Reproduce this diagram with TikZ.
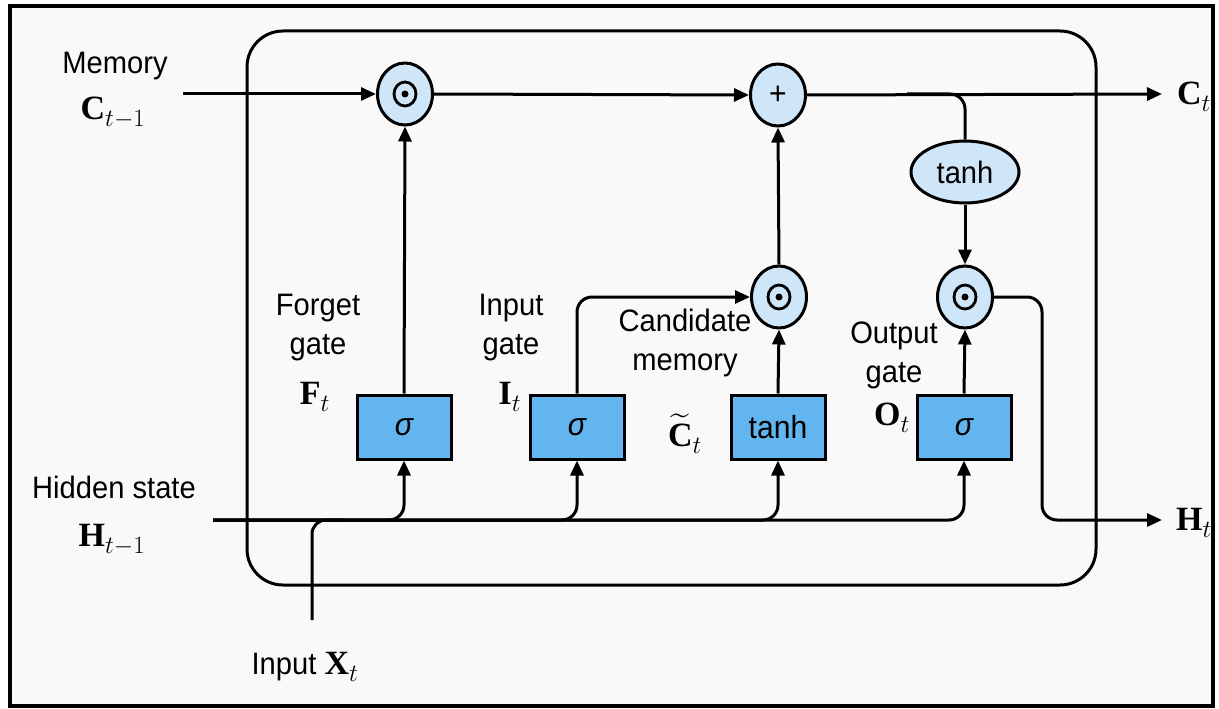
\documentclass[tikz,border=0pt]{standalone}
\usepackage{amsmath,amssymb}
\usepackage{fontspec}
\setmainfont[FakeStretch=0.94]{Liberation Sans}
\setmathrm{Liberation Serif}
\usepackage{tikz}
\usetikzlibrary{positioning,calc,shapes.geometric,arrows.meta}
\usepackage{xcolor}
\definecolor{boxblue}{HTML}{62B5EE}
\definecolor{opblue}{HTML}{CFE6F8}
\definecolor{bggray}{HTML}{F9F9F9}

\begin{document}
\begin{tikzpicture}[x=1pt,y=-1pt]
  % Styles local to this figure.
  \tikzset{
    wire/.style={line width=3pt},
    flow/.style={wire,-{Triangle[length=15pt,width=13pt]}},
    gatebox/.style={draw,line width=3pt,fill=boxblue,minimum width=94pt,minimum height=64pt,
      inner sep=0pt,font=\fontsize{32}{36}\selectfont},
    mulop/.style={ellipse,draw,line width=3pt,fill=opblue,minimum width=55pt,minimum height=62pt,
      inner sep=0pt,
      path picture={
        \draw[black,line width=2.8pt] (path picture bounding box.center) ellipse [x radius=11pt,y radius=12pt];
        \fill[black] (path picture bounding box.center) circle [radius=3.5pt];}},
    addop/.style={ellipse,draw,line width=3pt,fill=opblue,minimum width=55pt,minimum height=62pt,
      inner sep=0pt,font=\fontsize{32}{32}\selectfont},
    actop/.style={ellipse,draw,line width=3pt,fill=opblue,minimum width=108pt,minimum height=62pt,
      inner sep=0pt,font=\fontsize{31}{36}\selectfont},
    lbl/.style={align=center,font=\fontsize{31}{39}\selectfont},
    mlbl/.style={inner sep=1pt,font=\fontsize{34}{40}\selectfont}
  }

  % Page, frame and cell outline.
  \useasboundingbox (0,0) rectangle (1219,709);
  \fill[white] (0,0) rectangle (1219,709);
  \draw[line width=4pt,fill=bggray] (10,6) rectangle (1213,706);
  \draw[wire,rounded corners=36pt] (247,31) rectangle (1096,585);

  % Gates along the bottom.
  \node[gatebox] (fgate) at (404,427) {\itshape σ};
  \node[gatebox] (igate) at (577,427) {\itshape σ};
  \node[gatebox] (cgate) at (778,427) {tanh};
  \node[gatebox] (ogate) at (964,427) {\itshape σ};

  % Pointwise operators.
  \node[mulop] (fmul) at (405,94) {};
  \node[addop] (pmul) at (778,95) {+};
  \node[mulop] (cmul) at (779,297) {};
  \node[mulop] (omul) at (965,297) {};
  \node[actop] (tanhc) at (965,172) {tanh};

  % Free ends of the wires.
  \coordinate (cin) at (183,94);
  \coordinate (cout) at (1162,94);
  \coordinate (hin) at (213,520);
  \coordinate (hout) at (1162,520);
  \coordinate (xin) at (312,620);
  \coordinate (xjoin) at (345,520);
  \coordinate (tap) at (907,94);
  \coordinate (hturn) at (1042,520);

  % Memory path.
  \draw[flow] (cin) -- (fmul.west);
  \draw[flow] (fmul.east) -- (pmul.west);
  \draw[flow] (pmul.east) -- (cout);
  \draw[wire,rounded corners=15pt] (tap) -| (tanhc.north);
  \draw[flow] (tanhc.south) -- (omul.north);

  % Hidden state and input feeding every gate.
  \foreach \g in {fgate,igate,cgate,ogate}
    \draw[flow,rounded corners=15pt] (hin) -| (\g.south);
  \draw[wire,rounded corners=14pt] (xin) |- (xjoin);

  % Gate outputs.
  \draw[flow] (fgate.north) -- (fmul.south);
  \draw[flow,rounded corners=15pt] (igate.north) |- (cmul.west);
  \draw[flow] (cgate.north) -- (cmul.south);
  \draw[flow] (cmul.north) -- (pmul.south);
  \draw[flow] (ogate.north) -- (omul.south);
  \draw[flow,rounded corners=15pt] (omul.east) -| (hturn) -- (hout);

  % Labels.
  \node[lbl] (memlbl) at (115,66) {Memory};
  \node[mlbl] (cprev) at (113,113) {$\mathbf{C}_{t-1}$};
  \node[lbl] (hidlbl) at (114,487) {Hidden state};
  \node[mlbl] (hprev) at (112,540) {$\mathbf{H}_{t-1}$};
  \node[lbl] (xlbl) at (305,667) {Input {\fontsize{34}{40}\selectfont$\mathbf{X}_t$}};
  \node[mlbl] (cnext) at (1194,97) {$\mathbf{C}_t$};
  \node[mlbl] (hnext) at (1194,523) {$\mathbf{H}_t$};

  \node[lbl] (flbl) at (318,328) {Forget\\gate};
  \node[mlbl] (fsym) at (315,397) {$\mathbf{F}_t$};
  \node[lbl] (ilbl) at (511,328) {Input\\gate};
  \node[mlbl] (isym) at (510,397) {$\mathbf{I}_t$};
  \node[lbl] (clbl) at (685,343) {Candidate\\memory};
  \node[mlbl] (csym) at (685,434) {$\widetilde{\mathbf{C}}_t$};
  \node[lbl] (olbl) at (894,355) {Output\\gate};
  \node[mlbl] (osym) at (892,418) {$\mathbf{O}_t$};
\end{tikzpicture}
\end{document}
